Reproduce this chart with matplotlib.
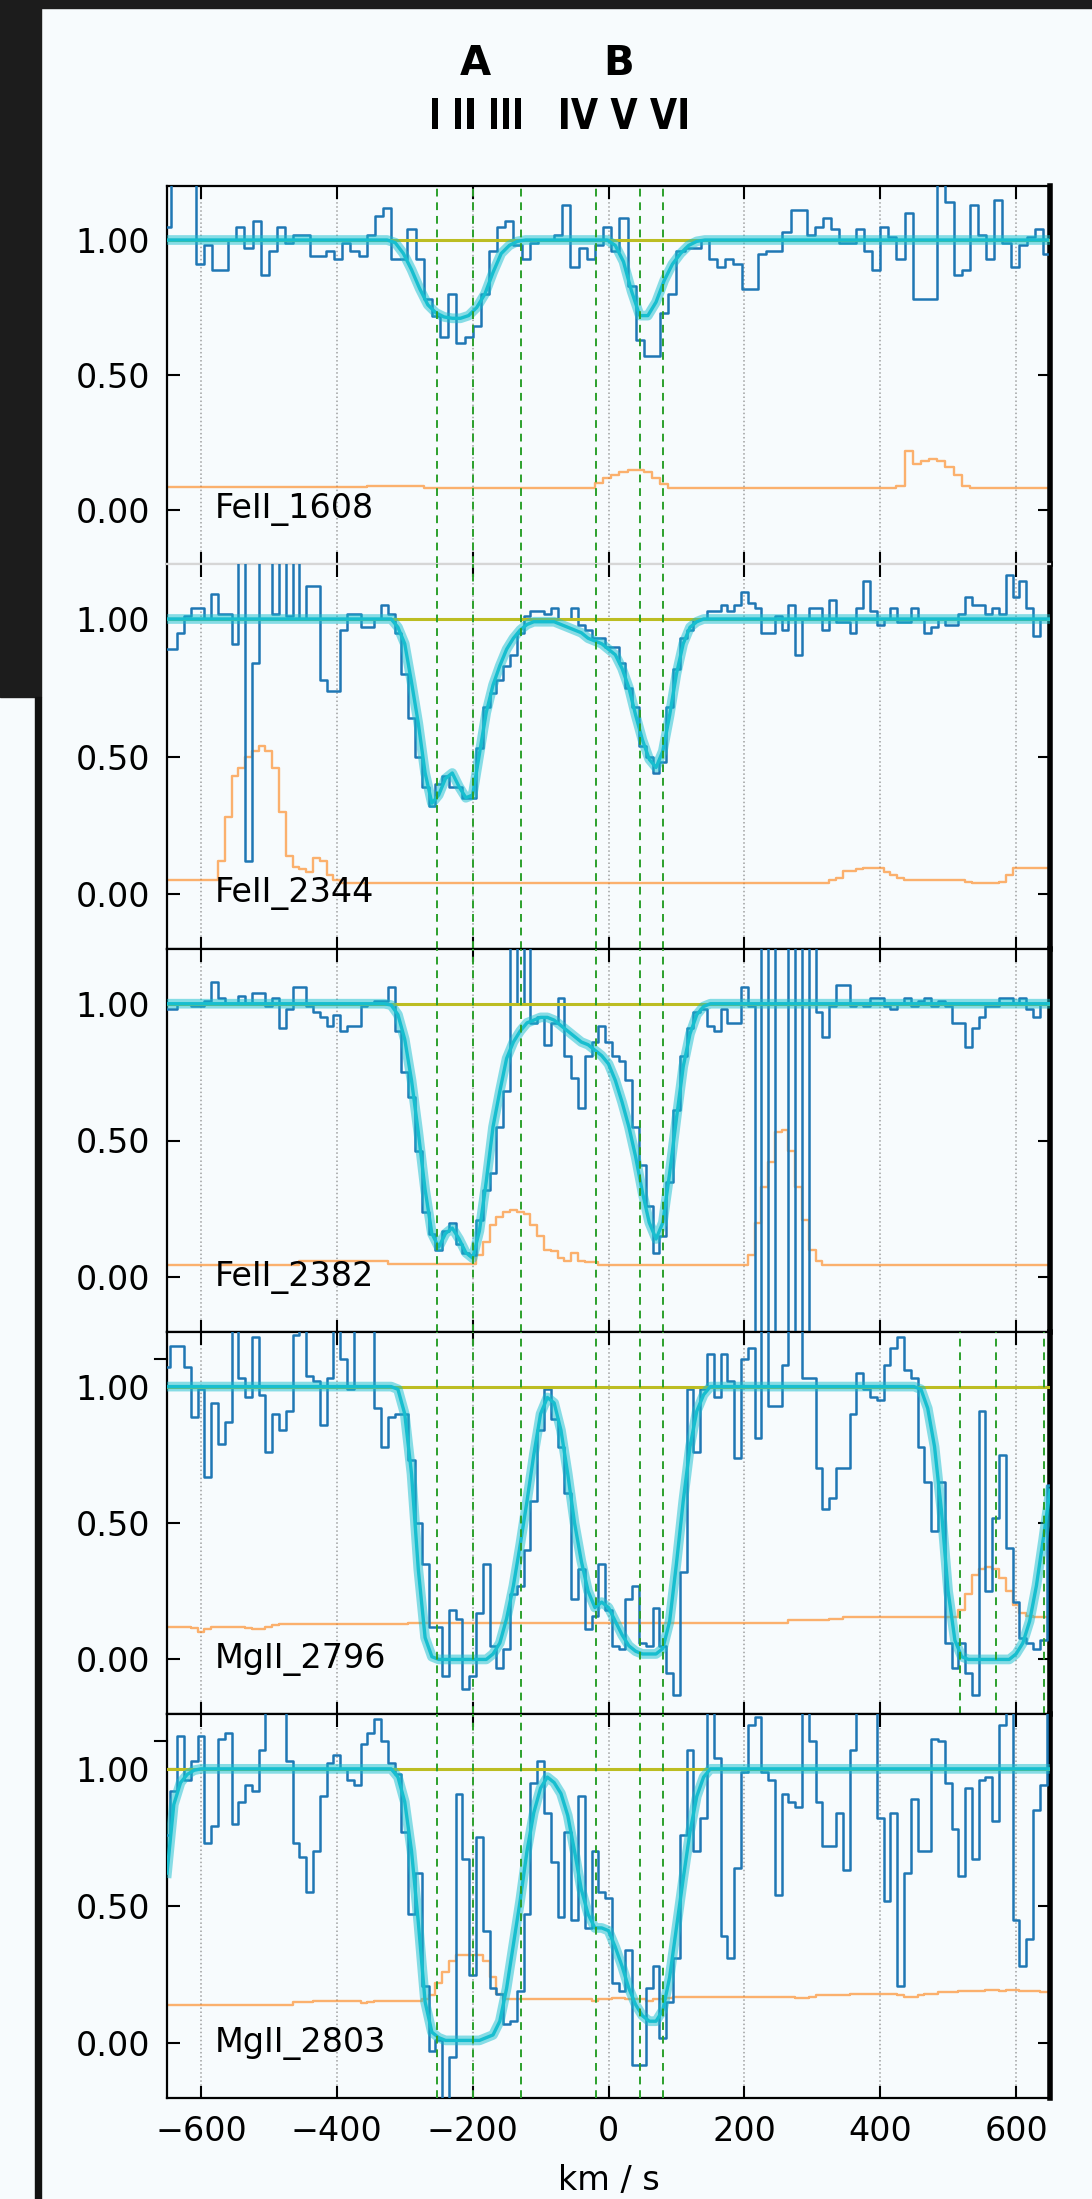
import numpy as np
import matplotlib.pyplot as plt
from matplotlib.patches import Rectangle, PathPatch
from matplotlib.textpath import TextPath
from matplotlib.font_manager import FontProperties
from matplotlib.transforms import Affine2D
from matplotlib.ticker import FormatStrFormatter

# pixel grids (km/s)
v_1608 = np.arange(-650, 651, 12)
v_grid = np.arange(-650, 651, 10)

line_names = ['FeII_1608', 'FeII_2344', 'FeII_2382', 'MgII_2796', 'MgII_2803']
components = [-253, -200, -129, -19, 47, 80]
group_labels = ['A', 'B']
numeral_groups = ['I II III', 'IV V VI']
mg_doublet_shift = 770

flux_1608 = [1.05, 1.25, 1.25, 1.25, 0.91, 0.98, 0.89, 0.89, 1.00, 1.05,
             0.97, 1.07, 0.87, 0.96, 1.05, 0.99, 1.02, 1.02, 0.94, 0.94,
             0.96, 0.93, 0.99, 0.96, 0.94, 1.02, 1.09, 1.12, 0.93, 0.93,
             1.04, 0.93, 0.78, 0.72, 0.64, 0.80, 0.62, 0.64, 0.68, 0.80,
             0.96, 1.05, 1.07, 0.98, 0.93, 0.99, 1.00, 1.00, 1.02, 1.13,
             0.90, 0.97, 0.93, 0.98, 1.05, 0.96, 1.08, 0.83, 0.63, 0.57,
             0.57, 0.73, 0.80, 0.96, 0.97, 0.97, 1.00, 0.93, 0.90, 0.93,
             0.91, 0.82, 0.82, 0.95, 0.96, 0.96, 1.03, 1.11, 1.11, 1.02,
             1.05, 1.08, 1.04, 0.99, 0.99, 1.04, 0.96, 0.89, 1.05, 1.01,
             0.93, 1.10, 0.78, 0.78, 0.78, 1.22, 1.14, 0.87, 0.89, 1.13,
             1.02, 0.93, 1.15, 0.99, 0.90, 0.98, 1.01, 1.04, 0.95]
model_1608 = [1.0] * 27 + [1.0, 0.99, 0.95, 0.89, 0.82, 0.76, 0.73, 0.715, 0.71,
                           0.71, 0.72, 0.75, 0.80, 0.88, 0.95, 0.98, 0.995] + \
             [1.0] * 10 + [1.0, 0.98, 0.92, 0.81, 0.72, 0.72, 0.77, 0.85, 0.91,
                           0.95, 0.98, 0.995] + [1.0] * 43
err_1608 = [0.085] * 25 + [0.09] * 7 + [0.083] * 21 + \
           [0.10, 0.12, 0.13, 0.14, 0.15, 0.15, 0.14, 0.12, 0.095] + \
           [0.083] * 28 + [0.09, 0.22, 0.17, 0.18, 0.19, 0.18, 0.16, 0.13, 0.09] + \
           [0.083] * 10

flux_2344 = [0.89, 0.89, 0.95, 1.01, 1.04, 1.04, 1.00, 1.09, 1.02, 1.02,
             0.91, 1.25, 0.12, 0.84, 1.25, 1.25, 1.02, 1.25, 1.01, 1.25,
             1.00, 1.12, 1.12, 0.78, 0.74, 0.74, 0.96, 1.02, 1.02, 0.97,
             0.97, 1.00, 1.05, 1.02, 0.95, 0.80, 0.64, 0.50, 0.39, 0.32,
             0.40, 0.43, 0.39, 0.39, 0.35, 0.35, 0.53, 0.68, 0.73, 0.78,
             0.83, 0.87, 0.95, 1.01, 1.03, 1.03, 1.02, 1.04, 1.00, 1.00,
             1.04, 0.98, 0.96, 0.93, 0.93, 0.90, 0.90, 0.84, 0.75, 0.68,
             0.54, 0.50, 0.44, 0.48, 0.68, 0.82, 0.93, 0.96, 1.00, 1.00,
             1.03, 1.03, 1.05, 1.03, 1.05, 1.10, 1.06, 1.04, 0.95, 0.95,
             1.01, 0.96, 1.05, 0.87, 1.00, 1.04, 1.04, 0.96, 1.07, 0.99,
             0.99, 0.95, 1.04, 1.14, 1.03, 0.98, 1.00, 1.04, 0.99, 0.99,
             1.04, 1.00, 0.95, 0.97, 1.00, 0.98, 0.98, 1.02, 1.08, 1.05,
             1.05, 1.02, 1.04, 1.02, 1.16, 1.08, 1.14, 1.04, 0.94, 1.00,
             1.00]
model_2344 = [1.0] * 32 + \
             [1.0, 1.0, 0.97, 0.91, 0.77, 0.62, 0.44, 0.33, 0.36, 0.42,
              0.44, 0.39, 0.35, 0.36, 0.51, 0.66, 0.76, 0.83, 0.89, 0.93,
              0.96, 0.98, 0.99, 0.99, 0.99, 0.99, 0.98, 0.97, 0.96, 0.95,
              0.93, 0.92, 0.91, 0.89, 0.87, 0.82, 0.75, 0.65, 0.56, 0.49,
              0.46, 0.52, 0.65, 0.80, 0.91, 0.97, 0.99, 1.0] + [1.0] * 51
err_2344 = [0.05] * 8 + \
           [0.12, 0.28, 0.43, 0.46, 0.50, 0.52, 0.54, 0.52, 0.46, 0.30,
            0.14, 0.10, 0.09, 0.08, 0.13, 0.12, 0.07, 0.05] + [0.04] * 72 + \
           [0.05, 0.06, 0.085, 0.085, 0.09, 0.095, 0.095, 0.095, 0.08, 0.07, 0.06] + \
           [0.05] * 9 + [0.045, 0.04, 0.04, 0.04, 0.04, 0.045, 0.07] + [0.095] * 6

flux_2382 = [0.98, 0.98, 1.00, 1.00, 0.99, 0.99, 1.01, 1.08, 1.02, 1.00,
             1.00, 1.03, 1.00, 1.04, 1.04, 0.99, 1.02, 0.91, 0.98, 1.06,
             1.06, 0.99, 0.97, 0.95, 0.92, 0.96, 0.90, 0.92, 0.92, 0.99,
             1.00, 1.01, 1.01, 1.06, 0.90, 0.75, 0.66, 0.46, 0.24, 0.16,
             0.10, 0.17, 0.20, 0.12, 0.09, 0.08, 0.21, 0.32, 0.38, 0.55,
             0.68, 1.25, 1.00, 1.25, 0.93, 0.95, 0.85, 0.93, 1.02, 0.81,
             0.73, 0.62, 0.81, 0.86, 0.92, 0.86, 0.81, 0.79, 0.72, 0.55,
             0.41, 0.26, 0.09, 0.15, 0.35, 0.61, 0.81, 0.91, 0.97, 0.98,
             0.92, 0.90, 0.98, 0.93, 0.93, 1.06, 0.99, -0.25, 1.25, -0.25,
             1.25, 1.25, -0.25, 1.25, -0.25, 1.25, 0.97, 0.88, 0.99, 1.07,
             1.07, 0.99, 1.00, 0.99, 1.02, 1.02, 0.99, 0.98, 1.00, 1.02,
             0.99, 1.01, 1.02, 0.99, 1.01, 0.99, 0.93, 0.93, 0.84, 0.91,
             0.95, 0.99, 0.99, 1.02, 1.02, 1.00, 1.02, 0.98, 0.95, 1.00,
             1.00]
model_2382 = [1.0] * 32 + \
             [1.0, 0.995, 0.96, 0.87, 0.72, 0.53, 0.32, 0.16, 0.11, 0.16,
              0.18, 0.14, 0.09, 0.07, 0.17, 0.35, 0.55, 0.68, 0.80, 0.86,
              0.90, 0.93, 0.94, 0.95, 0.95, 0.94, 0.92, 0.90, 0.88, 0.86,
              0.85, 0.83, 0.81, 0.78, 0.72, 0.64, 0.55, 0.44, 0.31, 0.20,
              0.14, 0.20, 0.38, 0.58, 0.77, 0.89, 0.96, 0.99, 1.0] + [1.0] * 50
err_2382 = [0.045] * 20 + [0.06] * 13 + [0.05] * 13 + \
           [0.08, 0.13, 0.19, 0.22, 0.24, 0.245, 0.24, 0.23, 0.19, 0.15,
            0.10, 0.095, 0.07, 0.06, 0.09, 0.06, 0.055, 0.055] + [0.045] * 22 + \
           [0.08, 0.20, 0.33, 0.42, 0.53, 0.54, 0.46, 0.33, 0.21, 0.10, 0.06] + \
           [0.045] * 34

flux_2796 = [1.07, 1.15, 1.15, 1.07, 0.89, 0.99, 0.67, 0.94, 0.79, 0.87,
             1.25, 1.03, 0.96, 1.18, 0.97, 0.76, 0.90, 0.84, 0.91, 1.19,
             1.25, 1.04, 1.02, 0.86, 1.03, 1.25, 1.10, 0.99, 1.25, 1.25,
             1.25, 0.92, 0.78, 0.89, 0.90, 0.90, 0.73, 0.50, 0.35, 0.12,
             0.12, -0.06, 0.18, 0.15, -0.11, -0.06, 0.17, 0.35, 0.05, -0.03,
             0.04, 0.24, 0.27, 0.40, 0.58, 0.84, 0.99, 0.88, 0.78, 0.61,
             0.22, 0.33, 0.11, 0.16, 0.35, 0.18, 0.05, 0.04, 0.22, 0.27,
             0.06, 0.05, 0.19, 0.05, -0.05, -0.13, 0.32, 0.99, 0.76, 0.99,
             1.12, 0.96, 1.12, 1.02, 0.74, 1.10, 1.14, 0.81, 1.25, 0.93,
             0.93, 1.08, 1.25, 1.25, 1.03, 1.03, 0.70, 0.55, 0.59, 0.70,
             0.70, 0.90, 1.05, 0.99, 0.96, 0.95, 1.08, 1.14, 1.18, 1.06,
             1.03, 0.78, 0.65, 0.47, 0.65, 0.06, -0.03, 0.06, -0.05, -0.13,
             0.91, 0.25, 0.52, 0.75, 0.41, 0.21, 0.08, 0.06, 0.04, 0.07,
             0.64]
model_2796 = [1.0] * 30 + \
             [1.0, 1.0, 1.0, 1.0, 0.99, 0.90, 0.68, 0.33, 0.08, 0.01,
              0.0, 0.0, 0.0, 0.0, 0.0, 0.0, 0.0, 0.0, 0.02, 0.06,
              0.15, 0.27, 0.42, 0.58, 0.75, 0.90, 0.96, 0.94, 0.84, 0.68,
              0.50, 0.36, 0.25, 0.19, 0.21, 0.19, 0.14, 0.09, 0.05, 0.03,
              0.02, 0.02, 0.02, 0.04, 0.14, 0.35, 0.58, 0.78, 0.91, 0.97] + \
             [1.0] * 30 + \
             [1.0, 0.99, 0.92, 0.78, 0.55, 0.25, 0.07, 0.01, 0.0, 0.0,
              0.0, 0.0, 0.0, 0.0, 0.0, 0.02, 0.06, 0.14, 0.27, 0.44, 0.62]
err_2796 = [0.12, 0.12, 0.12, 0.12, 0.115, 0.10, 0.11, 0.12, 0.12, 0.12,
            0.12, 0.12, 0.115, 0.11, 0.11, 0.12, 0.125, 0.13, 0.13, 0.13] + \
           [0.13] * 16 + [0.135] * 56 + \
           [0.145, 0.145, 0.145, 0.145, 0.145, 0.145, 0.15, 0.15] + [0.155] * 16 + \
           [0.155, 0.18, 0.24, 0.31, 0.33, 0.34, 0.33, 0.30, 0.25, 0.20,
            0.17, 0.16, 0.155, 0.155, 0.155]

flux_2803 = [0.76, 0.92, 1.12, 0.96, 1.03, 1.12, 0.73, 0.79, 1.11, 1.13,
             0.80, 0.88, 0.94, 0.92, 1.07, 1.25, 1.25, 1.25, 1.03, 0.73,
             0.68, 0.55, 0.70, 0.90, 1.02, 1.05, 1.00, 0.96, 0.94, 1.09,
             1.13, 1.18, 1.10, 1.02, 0.98, 0.77, 0.47, 0.62, 0.21, -0.03,
             0.01, -0.25, -0.05, 0.91, 0.67, 0.25, 0.75, 0.41, 0.20, 0.18,
             0.07, 0.08, 0.19, 0.47, 0.95, 1.03, 0.84, 0.66, 0.46, 0.77,
             0.45, 0.90, 0.42, 0.70, 0.55, 0.53, 0.22, 0.19, 0.34, -0.08,
             -0.08, 0.20, 0.28, 0.02, 0.15, 0.31, 0.76, 1.07, 0.70, 0.82,
             1.25, 1.04, 0.39, 0.31, 0.64, 0.99, 1.16, 1.19, 0.99, 0.96,
             0.54, 0.91, 0.88, 0.86, 1.25, 1.10, 0.88, 0.72, 0.72, 0.84,
             0.63, 1.07, 1.25, 1.25, 1.25, 0.82, 0.52, 0.84, 0.21, 0.62,
             0.89, 0.70, 0.70, 1.11, 1.10, 0.95, 0.78, 0.61, 0.93, 0.67,
             0.96, 0.97, 0.81, 1.16, 1.25, 0.45, 0.28, 0.38, 0.85, 0.94,
             1.25]
model_2803 = [0.62, 0.87, 0.95, 0.98, 0.995] + [1.0] * 25 + \
             [1.0, 1.0, 1.0, 1.0, 0.97, 0.88, 0.70, 0.44, 0.15, 0.04,
              0.02, 0.01, 0.01, 0.01, 0.01, 0.01, 0.01, 0.02, 0.03, 0.08,
              0.20, 0.36, 0.52, 0.70, 0.84, 0.93, 0.97, 0.95, 0.91, 0.83,
              0.70, 0.56, 0.47, 0.42, 0.42, 0.41, 0.35, 0.28, 0.20, 0.14,
              0.10, 0.08, 0.08, 0.12, 0.24, 0.42, 0.60, 0.77, 0.90, 0.97] + [1.0] * 51
err_2803 = [0.14] * 19 + [0.15, 0.15, 0.15] + [0.155] * 7 + [0.145] + \
           [0.15, 0.155, 0.155, 0.155, 0.155, 0.155, 0.155, 0.155, 0.16, 0.175,
            0.22, 0.26, 0.30, 0.32, 0.32, 0.32, 0.32, 0.30, 0.24, 0.18] + \
           [0.16] * 13 + [0.155, 0.16, 0.16, 0.165, 0.165, 0.16, 0.16,
                          0.16, 0.155, 0.16, 0.16, 0.165, 0.17, 0.17, 0.17, 0.17, 0.17] + \
           [0.17] * 13 + [0.165, 0.165, 0.17] + [0.175] * 5 + [0.18] * 7 + \
           [0.175, 0.17, 0.17, 0.175, 0.18, 0.18, 0.185, 0.185, 0.185, 0.19, 0.19, 0.19,
            0.19, 0.195, 0.195, 0.19, 0.195, 0.195, 0.19, 0.19, 0.19, 0.185, 0.185]

velocity = [v_1608, v_grid, v_grid, v_grid, v_grid]
fluxes = [flux_1608, flux_2344, flux_2382, flux_2796, flux_2803]
models = [model_1608, model_2344, model_2382, model_2796, model_2803]
errors = [err_1608, err_2344, err_2382, err_2796, err_2803]

W, H = 1092, 2199
bg = '#f7fbfd'
fig = plt.figure(figsize=(W / 100, H / 100), dpi=100, facecolor=bg)

left, right = 167, 1050
edges = [186, 564, 949, 1332, 1714, 2098]

axes = []
for i in range(5):
    top, bot = edges[i], edges[i + 1]
    ax = fig.add_axes([left / W, 1 - bot / H, (right - left) / W, (bot - top) / H])
    ax.set_facecolor(bg)
    axes.append(ax)

    v = np.asarray(velocity[i])
    ax.step(v, errors[i], where='mid', color='#ff7f0e', alpha=0.6, lw=1.7, zorder=2)
    ax.step(v, fluxes[i], where='mid', color='#1f77b4', lw=1.8, zorder=3)
    ax.axhline(1.0, color='#bcbd22', lw=2.2, zorder=4)
    ax.plot(v, models[i], color='#17becf', lw=7, alpha=0.5, zorder=5)
    ax.plot(v, models[i], color='#17becf', lw=2.4, zorder=6)

    vl = list(components)
    if line_names[i] == 'MgII_2796':
        vl += [c + mg_doublet_shift for c in components if c + mg_doublet_shift < 650]
    for c in vl:
        ax.axvline(c, color='#2ca02c', ls=(0, (4, 3)), lw=1.4, zorder=7)

    ax.set_xlim(-650, 650)
    ax.set_ylim(-0.2, 1.2)
    ax.set_xticks(np.arange(-600, 601, 200))
    ax.set_yticks([0, 0.5, 1.0])
    ax.yaxis.set_major_formatter(FormatStrFormatter('%.2f'))
    ax.grid(axis='x', ls=':', color='#888888', lw=1.1, alpha=0.8)
    ax.tick_params(direction='in', top=True, right=True, length=9, width=1.5,
                   labelsize=24, pad=12)
    for s in ax.spines.values():
        s.set_linewidth(1.6)
    ax.spines['right'].set_linewidth(4)
    if i < 4:
        ax.tick_params(labelbottom=False)
    if i >= 3:
        # stray outward tick on the left spine
        ax.plot([-0.014, 0], [1.1, 1.1], transform=ax.get_yaxis_transform(),
                color='black', lw=1.5, clip_on=False)
    ax.text(-580, 0.0, line_names[i], fontsize=24, va='center', zorder=8)

axes[0].spines['bottom'].set_color('#d6d6d6')
axes[1].spines['top'].set_color('#d6d6d6')
axes[-1].set_xlabel('km / s', fontsize=24, labelpad=12)

# component labels above the top panel
fig.text(475 / W, 1 - 64 / H, group_labels[0], fontsize=29, fontweight='bold',
         ha='center', va='center')
fig.text(619 / W, 1 - 64 / H, group_labels[1], fontsize=29, fontweight='bold',
         ha='center', va='center')

# narrow bold numerals (condensed look)
fp = FontProperties(family='DejaVu Sans', weight='bold')
num_boxes = [(432, 89), (561, 126)]   # left edge and width in pixels
for text, (x0, wbox) in zip(numeral_groups, num_boxes):
    tp = TextPath((0, 0), text, size=42, prop=fp)
    ext = tp.get_extents()
    sx = wbox / ext.width
    sy = 31 / ext.height
    tr = Affine2D().translate(-ext.x0, -ext.y0).scale(sx, sy).translate(x0, H - 129)
    fig.add_artist(PathPatch(tp, transform=tr, facecolor='black', edgecolor='none'))

# dark window edges around the screenshot
fig.add_artist(Rectangle((0, 1 - 8 / H), 1, 8 / H, transform=fig.transFigure,
                         color='#1c1c1c', zorder=10))
fig.add_artist(Rectangle((0, 1 - 697 / H), 41 / W, 697 / H, transform=fig.transFigure,
                         color='#1c1c1c', zorder=10))
fig.add_artist(Rectangle((35 / W, 0), 6 / W, 1 - 697 / H, transform=fig.transFigure,
                         color='#111111', zorder=10))

fig.savefig('out.png', dpi=100, facecolor=bg)
